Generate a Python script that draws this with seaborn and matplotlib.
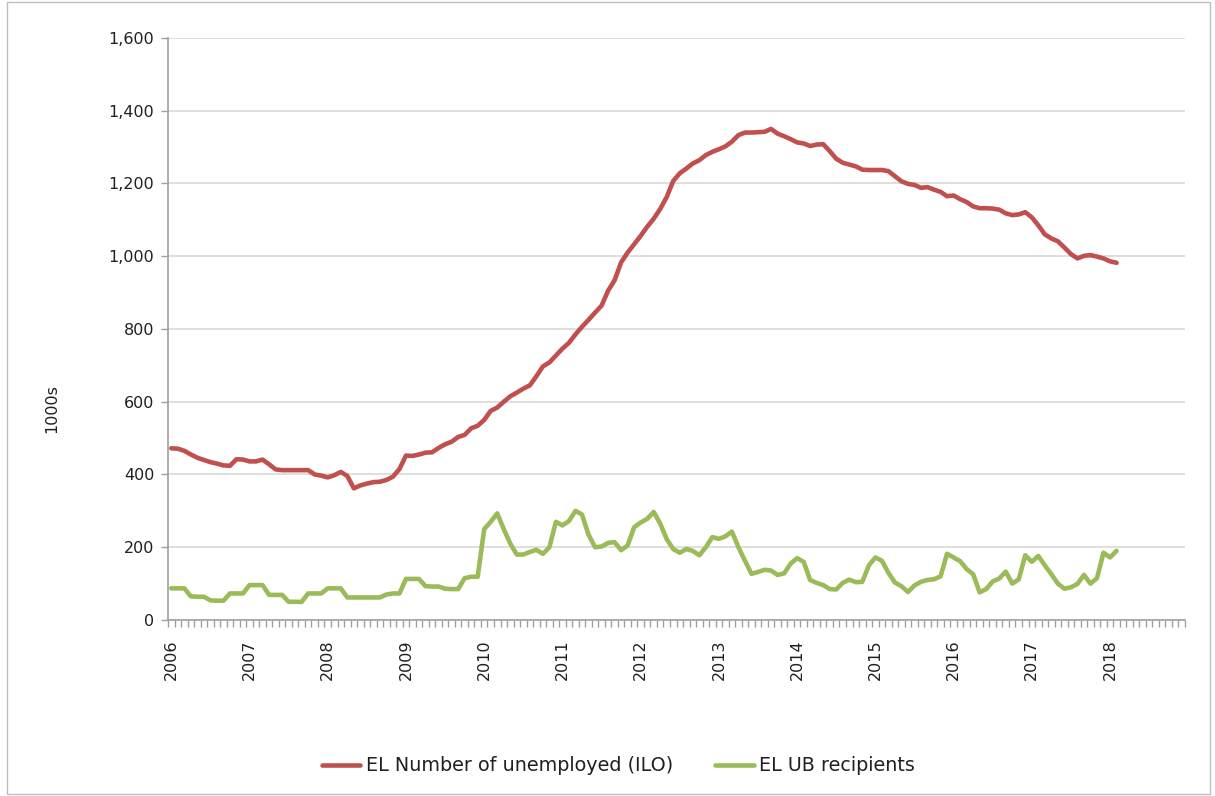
import matplotlib
matplotlib.use("Agg")
import matplotlib.pyplot as plt
import matplotlib.ticker as mticker
from matplotlib.patches import Rectangle
import seaborn as sns
import pandas as pd
import numpy as np

# monthly values, Jan 2006 - Feb 2018 (thousands)
unemployed = [
    472, 471, 465, 455, 446, 440, 434, 430, 425, 424, 442, 441,
    436, 436, 441, 428, 414, 412, 412, 412, 412, 412, 400, 397,
    392, 398, 407, 396, 362, 370, 375, 379, 380, 385, 394, 415,
    452, 451, 455, 460, 461, 473, 483, 490, 503, 509, 527, 534,
    550, 575, 584, 600, 615, 625, 636, 645, 670, 697, 708, 727,
    746, 762, 785, 806, 825, 845, 864, 905, 934, 983, 1010, 1033,
    1056, 1081, 1103, 1130, 1163, 1207, 1228, 1241, 1255, 1264, 1278, 1287,
    1294, 1302, 1315, 1333, 1340, 1340, 1341, 1342, 1350, 1337, 1330, 1322,
    1313, 1310, 1303, 1307, 1308, 1289, 1268, 1257, 1252, 1247, 1238, 1237,
    1237, 1237, 1234, 1220, 1206, 1199, 1196, 1188, 1190, 1183, 1177, 1165,
    1167, 1157, 1149, 1137, 1132, 1132, 1131, 1128, 1118, 1113, 1115, 1121,
    1107, 1085, 1060, 1049, 1041, 1024, 1006, 994, 1001, 1003, 999, 994,
    986, 982,
]
ub_recipients = [
    87, 87, 87, 65, 64, 64, 54, 53, 53, 73, 73, 73,
    96, 96, 96, 69, 69, 69, 50, 50, 50, 73, 73, 73,
    87, 87, 87, 62, 62, 62, 62, 62, 62, 70, 73, 73,
    113, 113, 113, 93, 92, 92, 86, 85, 85, 115, 119, 119,
    250, 270, 293, 250, 210, 180, 180, 187, 193, 182, 200, 270,
    260, 272, 300, 290, 235, 200, 202, 212, 214, 192, 205, 255,
    268, 278, 297, 265, 222, 195, 185, 195, 190, 178, 200, 228,
    223, 230, 243, 200, 163, 127, 132, 138, 136, 124, 128, 155,
    170, 160, 110, 102, 96, 85, 84, 102, 111, 104, 105, 150,
    172, 163, 130, 103, 93, 77, 95, 105, 110, 112, 120, 182,
    172, 162, 140, 126, 76, 85, 106, 114, 133, 100, 112, 178,
    160, 176, 150, 126, 100, 86, 90, 99, 124, 100, 115, 185,
    172, 190,
]
years = [str(y) for y in range(2006, 2019)]
series_names = ["EL Number of unemployed (ILO)", "EL UB recipients"]
colors = ["#C0504D", "#9BBB59"]

n = len(unemployed)
df = pd.DataFrame({
    "month": list(range(n)) * 2,
    "value": unemployed + ub_recipients,
    "series": [series_names[0]] * n + [series_names[1]] * n,
})

sns.set_style("white")
plt.rcParams["font.family"] = ["DejaVu Sans"]

fig = plt.figure(figsize=(12.15, 7.96), dpi=100)
ax = fig.add_axes([0.1383, 0.2211, 0.837, 0.7312])

sns.lineplot(data=df, x="month", y="value", hue="series", palette=colors,
             linewidth=3.3, ax=ax, legend=True)

n_cat = 12 * len(years)
ax.set_xlim(-0.5, n_cat - 0.5)
ax.set_ylim(0, 1600)
ax.set_yticks(range(0, 1601, 200))
ax.yaxis.set_major_formatter(mticker.FuncFormatter(lambda v, p: f"{int(v):,}"))
ax.set_xticks([12 * i for i in range(len(years))])
ax.set_xticklabels(years, rotation=90)
ax.set_xticks(np.arange(-0.5, n_cat, 1), minor=True)
ax.tick_params(axis="x", which="major", length=0, pad=14, labelsize=11.5,
               labelcolor="#202020")
ax.tick_params(axis="x", which="minor", length=5, width=1, color="#A0A0A0",
               direction="out", bottom=True)
ax.tick_params(axis="y", length=5, width=1, color="#A0A0A0", direction="out",
               left=True, labelsize=11.5, pad=5, labelcolor="#202020")
ax.grid(axis="y", color="#D9D9D9", linewidth=1.2)
ax.set_axisbelow(True)
for s in ["top", "right"]:
    ax.spines[s].set_visible(False)
for s in ["left", "bottom"]:
    ax.spines[s].set_color("#A0A0A0")
    ax.spines[s].set_linewidth(1.2)
ax.set_xlabel("")
ax.set_ylabel("")

handles, labels = ax.get_legend_handles_labels()
ax.get_legend().remove()
fig.legend(handles, labels, loc="center", bbox_to_anchor=(0.509, 0.038),
           ncol=2, frameon=False, fontsize=13.8, handlelength=2.0,
           columnspacing=2.2, handletextpad=0.3, labelcolor="#202020")

fig.text(0.043, 0.487, "1000s", rotation=90, ha="center", va="center",
         fontsize=11.5, color="#202020")

fig.patches.append(Rectangle((0.006, 0.002), 0.99, 0.996, transform=fig.transFigure,
                             fill=False, edgecolor="#BFBFBF", linewidth=1))

fig.savefig("out.png", dpi=100)
